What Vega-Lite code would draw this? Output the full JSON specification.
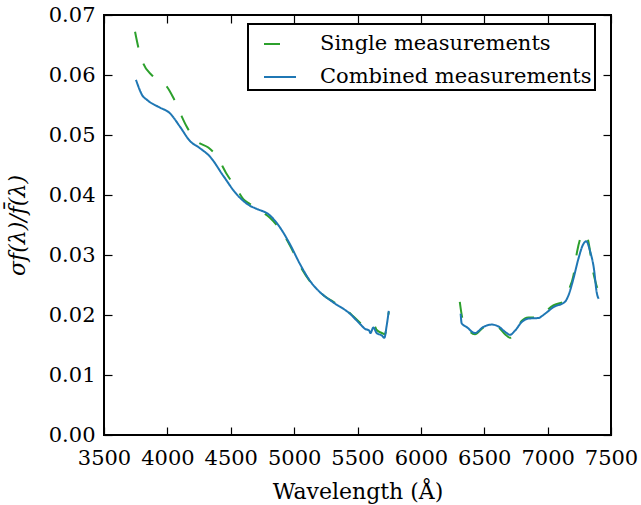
{
  "$schema": "https://vega.github.io/schema/vega-lite/v6.json",
  "width": 507,
  "height": 420,
  "autosize": "none",
  "padding": {"left": 104, "top": 15, "right": 30, "bottom": 70},
  "background": "white",
  "config": {
    "font": "DejaVu Serif",
    "view": {"stroke": "black", "strokeWidth": 2},
    "legend": {"strokeWidth": 2},
    "axis": {
      "domain": false,
      "grid": false,
      "tickColor": "black",
      "tickSize": -8,
      "tickWidth": 1.2,
      "labelFontSize": 21,
      "labelColor": "black",
      "titleFontSize": 22,
      "titleFontWeight": "normal",
      "titleColor": "black"
    }
  },
  "data": {
    "values": [
      {"series": "Single measurements", "seg": "a", "wl": 3745, "v": 0.0672},
      {"series": "Single measurements", "seg": "a", "wl": 3772, "v": 0.0645},
      {"series": "Single measurements", "seg": "a", "wl": 3810, "v": 0.0619},
      {"series": "Single measurements", "seg": "a", "wl": 3876, "v": 0.0600},
      {"series": "Single measurements", "seg": "a", "wl": 3942, "v": 0.0590},
      {"series": "Single measurements", "seg": "a", "wl": 3994, "v": 0.0581},
      {"series": "Single measurements", "seg": "a", "wl": 4047, "v": 0.0562},
      {"series": "Single measurements", "seg": "a", "wl": 4100, "v": 0.0537},
      {"series": "Single measurements", "seg": "a", "wl": 4152, "v": 0.0514},
      {"series": "Single measurements", "seg": "a", "wl": 4231, "v": 0.0490},
      {"series": "Single measurements", "seg": "a", "wl": 4323, "v": 0.0479},
      {"series": "Single measurements", "seg": "a", "wl": 4389, "v": 0.0465},
      {"series": "Single measurements", "seg": "a", "wl": 4468, "v": 0.0435},
      {"series": "Single measurements", "seg": "a", "wl": 4547, "v": 0.0410},
      {"series": "Single measurements", "seg": "a", "wl": 4599, "v": 0.0393},
      {"series": "Single measurements", "seg": "a", "wl": 4652, "v": 0.0385},
      {"series": "Single measurements", "seg": "a", "wl": 4704, "v": 0.0377},
      {"series": "Single measurements", "seg": "a", "wl": 4809, "v": 0.0362},
      {"series": "Single measurements", "seg": "a", "wl": 4888, "v": 0.0343},
      {"series": "Single measurements", "seg": "a", "wl": 4967, "v": 0.0316},
      {"series": "Single measurements", "seg": "a", "wl": 5046, "v": 0.0282},
      {"series": "Single measurements", "seg": "a", "wl": 5125, "v": 0.0256},
      {"series": "Single measurements", "seg": "a", "wl": 5204, "v": 0.0238},
      {"series": "Single measurements", "seg": "a", "wl": 5309, "v": 0.0222},
      {"series": "Single measurements", "seg": "a", "wl": 5392, "v": 0.0212},
      {"series": "Single measurements", "seg": "a", "wl": 5441, "v": 0.0203},
      {"series": "Single measurements", "seg": "a", "wl": 5520, "v": 0.0187},
      {"series": "Single measurements", "seg": "a", "wl": 5559, "v": 0.0180},
      {"series": "Single measurements", "seg": "a", "wl": 5602, "v": 0.0178},
      {"series": "Single measurements", "seg": "a", "wl": 5632, "v": 0.0182},
      {"series": "Single measurements", "seg": "a", "wl": 5652, "v": 0.0175},
      {"series": "Single measurements", "seg": "a", "wl": 5692, "v": 0.0170},
      {"series": "Single measurements", "seg": "a", "wl": 5717, "v": 0.0168},
      {"series": "Single measurements", "seg": "a", "wl": 5732, "v": 0.0185},
      {"series": "Single measurements", "seg": "a", "wl": 5747, "v": 0.0205},
      {"series": "Single measurements", "seg": "b", "wl": 6307, "v": 0.0222},
      {"series": "Single measurements", "seg": "b", "wl": 6327, "v": 0.0195},
      {"series": "Single measurements", "seg": "b", "wl": 6361, "v": 0.0180},
      {"series": "Single measurements", "seg": "b", "wl": 6427, "v": 0.0168},
      {"series": "Single measurements", "seg": "b", "wl": 6492, "v": 0.0179},
      {"series": "Single measurements", "seg": "b", "wl": 6558, "v": 0.0184},
      {"series": "Single measurements", "seg": "b", "wl": 6611, "v": 0.0180},
      {"series": "Single measurements", "seg": "b", "wl": 6664, "v": 0.0168},
      {"series": "Single measurements", "seg": "b", "wl": 6703, "v": 0.0162},
      {"series": "Single measurements", "seg": "b", "wl": 6743, "v": 0.0172},
      {"series": "Single measurements", "seg": "b", "wl": 6795, "v": 0.0190},
      {"series": "Single measurements", "seg": "b", "wl": 6848, "v": 0.0196},
      {"series": "Single measurements", "seg": "b", "wl": 6926, "v": 0.0196},
      {"series": "Single measurements", "seg": "b", "wl": 6979, "v": 0.0205},
      {"series": "Single measurements", "seg": "b", "wl": 7045, "v": 0.0216},
      {"series": "Single measurements", "seg": "b", "wl": 7137, "v": 0.0224},
      {"series": "Single measurements", "seg": "b", "wl": 7163, "v": 0.0240},
      {"series": "Single measurements", "seg": "b", "wl": 7203, "v": 0.0265},
      {"series": "Single measurements", "seg": "b", "wl": 7232, "v": 0.0305},
      {"series": "Single measurements", "seg": "b", "wl": 7254, "v": 0.0325},
      {"series": "Single measurements", "seg": "b", "wl": 7285, "v": 0.0337},
      {"series": "Single measurements", "seg": "b", "wl": 7312, "v": 0.0330},
      {"series": "Single measurements", "seg": "b", "wl": 7332, "v": 0.0310},
      {"series": "Single measurements", "seg": "b", "wl": 7352, "v": 0.0280},
      {"series": "Single measurements", "seg": "b", "wl": 7372, "v": 0.0260},
      {"series": "Single measurements", "seg": "b", "wl": 7392, "v": 0.0245},
      {"series": "Single measurements", "seg": "b", "wl": 7407, "v": 0.0240},
      {"series": "Combined measurements", "seg": "a", "wl": 3752, "v": 0.0592},
      {"series": "Combined measurements", "seg": "a", "wl": 3782, "v": 0.0575},
      {"series": "Combined measurements", "seg": "a", "wl": 3797, "v": 0.0568},
      {"series": "Combined measurements", "seg": "a", "wl": 3842, "v": 0.0558},
      {"series": "Combined measurements", "seg": "a", "wl": 3928, "v": 0.0547},
      {"series": "Combined measurements", "seg": "a", "wl": 4021, "v": 0.0536},
      {"series": "Combined measurements", "seg": "a", "wl": 4099, "v": 0.0514},
      {"series": "Combined measurements", "seg": "a", "wl": 4178, "v": 0.0490},
      {"series": "Combined measurements", "seg": "a", "wl": 4257, "v": 0.0478},
      {"series": "Combined measurements", "seg": "a", "wl": 4336, "v": 0.0464},
      {"series": "Combined measurements", "seg": "a", "wl": 4441, "v": 0.0432},
      {"series": "Combined measurements", "seg": "a", "wl": 4547, "v": 0.0401},
      {"series": "Combined measurements", "seg": "a", "wl": 4652, "v": 0.0382},
      {"series": "Combined measurements", "seg": "a", "wl": 4704, "v": 0.0377},
      {"series": "Combined measurements", "seg": "a", "wl": 4809, "v": 0.0366},
      {"series": "Combined measurements", "seg": "a", "wl": 4888, "v": 0.0346},
      {"series": "Combined measurements", "seg": "a", "wl": 4967, "v": 0.0318},
      {"series": "Combined measurements", "seg": "a", "wl": 5046, "v": 0.0285},
      {"series": "Combined measurements", "seg": "a", "wl": 5125, "v": 0.0257},
      {"series": "Combined measurements", "seg": "a", "wl": 5204, "v": 0.0238},
      {"series": "Combined measurements", "seg": "a", "wl": 5309, "v": 0.0221},
      {"series": "Combined measurements", "seg": "a", "wl": 5441, "v": 0.0202},
      {"series": "Combined measurements", "seg": "a", "wl": 5520, "v": 0.0185},
      {"series": "Combined measurements", "seg": "a", "wl": 5559, "v": 0.0177},
      {"series": "Combined measurements", "seg": "a", "wl": 5592, "v": 0.0174},
      {"series": "Combined measurements", "seg": "a", "wl": 5602, "v": 0.0170},
      {"series": "Combined measurements", "seg": "a", "wl": 5625, "v": 0.0179},
      {"series": "Combined measurements", "seg": "a", "wl": 5651, "v": 0.0170},
      {"series": "Combined measurements", "seg": "a", "wl": 5691, "v": 0.0166},
      {"series": "Combined measurements", "seg": "a", "wl": 5712, "v": 0.0162},
      {"series": "Combined measurements", "seg": "a", "wl": 5730, "v": 0.0182},
      {"series": "Combined measurements", "seg": "a", "wl": 5747, "v": 0.0207},
      {"series": "Combined measurements", "seg": "b", "wl": 6314, "v": 0.0202},
      {"series": "Combined measurements", "seg": "b", "wl": 6322, "v": 0.0186},
      {"series": "Combined measurements", "seg": "b", "wl": 6361, "v": 0.0180},
      {"series": "Combined measurements", "seg": "b", "wl": 6427, "v": 0.0170},
      {"series": "Combined measurements", "seg": "b", "wl": 6492, "v": 0.0180},
      {"series": "Combined measurements", "seg": "b", "wl": 6558, "v": 0.0184},
      {"series": "Combined measurements", "seg": "b", "wl": 6611, "v": 0.0181},
      {"series": "Combined measurements", "seg": "b", "wl": 6664, "v": 0.0172},
      {"series": "Combined measurements", "seg": "b", "wl": 6703, "v": 0.0167},
      {"series": "Combined measurements", "seg": "b", "wl": 6743, "v": 0.0174},
      {"series": "Combined measurements", "seg": "b", "wl": 6795, "v": 0.0188},
      {"series": "Combined measurements", "seg": "b", "wl": 6848, "v": 0.0194},
      {"series": "Combined measurements", "seg": "b", "wl": 6926, "v": 0.0195},
      {"series": "Combined measurements", "seg": "b", "wl": 6979, "v": 0.0202},
      {"series": "Combined measurements", "seg": "b", "wl": 7045, "v": 0.0213},
      {"series": "Combined measurements", "seg": "b", "wl": 7137, "v": 0.0222},
      {"series": "Combined measurements", "seg": "b", "wl": 7163, "v": 0.0232},
      {"series": "Combined measurements", "seg": "b", "wl": 7203, "v": 0.0260},
      {"series": "Combined measurements", "seg": "b", "wl": 7242, "v": 0.0293},
      {"series": "Combined measurements", "seg": "b", "wl": 7281, "v": 0.0318},
      {"series": "Combined measurements", "seg": "b", "wl": 7305, "v": 0.0323},
      {"series": "Combined measurements", "seg": "b", "wl": 7334, "v": 0.0307},
      {"series": "Combined measurements", "seg": "b", "wl": 7366, "v": 0.0276},
      {"series": "Combined measurements", "seg": "b", "wl": 7387, "v": 0.0238},
      {"series": "Combined measurements", "seg": "b", "wl": 7402, "v": 0.0227}
    ]
  },
  "layer": [
    {
      "transform": [{"filter": "datum.series === 'Single measurements'"}],
      "mark": {"type": "line", "strokeWidth": 2, "interpolate": "monotone"},
      "encoding": {
        "x": {
          "field": "wl", "type": "quantitative",
          "scale": {"domain": [3500, 7500], "nice": false, "zero": false},
          "axis": {"title": "Wavelength (Å)", "values": [3500, 4000, 4500, 5000, 5500, 6000, 6500, 7000, 7500], "format": "d", "labelPadding": 20, "titlePadding": 13, "labelFlush": false}
        },
        "y": {
          "field": "v", "type": "quantitative",
          "scale": {"domain": [0, 0.07], "nice": false},
          "axis": {"title": "σf(λ)/f̄(λ)", "titleFontStyle": "italic", "values": [0, 0.01, 0.02, 0.03, 0.04, 0.05, 0.06, 0.07], "format": ".2f", "labelPadding": 17, "titlePadding": 19, "labelFlush": false}
        },
        "detail": {"field": "seg"},
        "color": {
          "field": "series", "type": "nominal",
          "scale": {"domain": ["Single measurements", "Combined measurements"], "range": ["#2ca02c", "#1f77b4"]},
          "legend": {
            "title": null, "orient": "none", "legendX": 144, "legendY": 9,
            "strokeColor": "black", "fillColor": "white",
            "padding": 3, "symbolOffset": 12, "symbolType": "stroke", "symbolSize": 1024,
            "symbolStrokeWidth": 2, "labelFontSize": 21, "labelColor": "black", "labelOffset": 23, "rowPadding": 6, "labelLimit": 400
          }
        },
        "strokeDash": {
          "field": "series", "type": "nominal",
          "scale": {"domain": ["Single measurements", "Combined measurements"], "range": [[16, 17], [1, 0]]},
          "legend": null
        }
      }
    },
    {
      "transform": [{"filter": "datum.series === 'Combined measurements'"}],
      "mark": {"type": "line", "strokeWidth": 2, "interpolate": "monotone"},
      "encoding": {
        "x": {
          "field": "wl", "type": "quantitative",
          "axis": {"orient": "top", "title": null, "labels": false, "values": [3500, 4000, 4500, 5000, 5500, 6000, 6500, 7000, 7500]}
        },
        "y": {
          "field": "v", "type": "quantitative",
          "axis": {"orient": "right", "title": null, "labels": false, "values": [0, 0.01, 0.02, 0.03, 0.04, 0.05, 0.06, 0.07]}
        },
        "detail": {"field": "seg"},
        "color": {"field": "series", "type": "nominal"},
        "strokeDash": {"field": "series", "type": "nominal"}
      }
    }
  ],
  "resolve": {"axis": {"x": "independent", "y": "independent"}}
}
